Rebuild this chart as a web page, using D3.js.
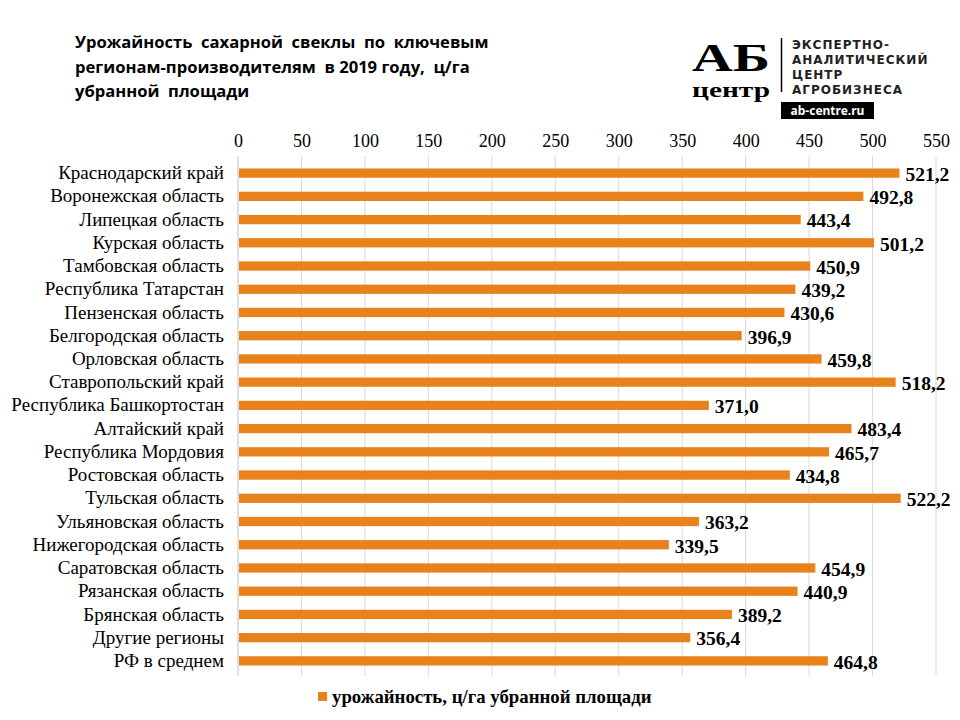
<!DOCTYPE html>
<html><head><meta charset="utf-8">
<script src="https://cdn.jsdelivr.net/npm/d3@7"></script>
<style>body{margin:0;background:#fff}</style>
</head><body>
<svg id="c" width="960" height="720"></svg>
<script>
const categories = ["Краснодарский край","Воронежская область","Липецкая область","Курская область","Тамбовская область","Республика Татарстан","Пензенская область","Белгородская область","Орловская область","Ставропольский край","Республика Башкортостан","Алтайский край","Республика Мордовия","Ростовская область","Тульская область","Ульяновская область","Нижегородская область","Саратовская область","Рязанская область","Брянская область","Другие регионы","РФ в среднем"];
const values = [521.2,492.8,443.4,501.2,450.9,439.2,430.6,396.9,459.8,518.2,371.0,483.4,465.7,434.8,522.2,363.2,339.5,454.9,440.9,389.2,356.4,464.8];
const tickValues = [0,50,100,150,200,250,300,350,400,450,500,550];
const titleLines = ["Урожайность  сахарной  свеклы  по  ключевым","регионам-производителям  в 2019 году,  ц/га","убранной  площади"];
const legendLabel = "урожайность, ц/га убранной площади";
const logoLines = ["ЭКСПЕРТНО-","АНАЛИТИЧЕСКИЙ","ЦЕНТР","АГРОБИЗНЕСА"];

const svg = d3.select("#c");
const orange = "#E8821C";
const serif = "Liberation Serif, Times New Roman, serif";
const x = d3.scaleLinear().domain([0,550]).range([238,936]);
const y = d3.scaleBand().domain(categories).range([161.5,672.5]).paddingInner(0.6).paddingOuter(0.3);

// gridlines
svg.append("g").selectAll("line").data(tickValues.slice(1)).join("line")
  .attr("x1",d=>x(d)).attr("x2",d=>x(d)).attr("y1",156).attr("y2",676)
  .attr("stroke","#d9d9d9").attr("stroke-width",1);

// top axis
const ax = svg.append("g").attr("transform","translate(0,147)")
  .call(d3.axisTop(x).tickValues(tickValues).tickSize(0).tickPadding(0));
ax.select(".domain").remove();
ax.selectAll("text").style("font-family",serif).style("font-size","18px").attr("fill","#000");

// left axis
const ay = svg.append("g").attr("transform","translate(238,0)")
  .call(d3.axisLeft(y).tickSize(0).tickPadding(14));
ay.select(".domain").attr("stroke","#bfbfbf").attr("d","M0,156V676");
ay.selectAll("text").style("font-family",serif).style("font-size","19px").attr("fill","#000");

// bars
svg.append("g").selectAll("rect").data(values).join("rect")
  .attr("x",x(0)+1).attr("y",(d,i)=>y(categories[i]))
  .attr("width",d=>x(d)-x(0)-1).attr("height",y.bandwidth())
  .attr("fill",orange);

// value labels
svg.append("g").selectAll("text").data(values).join("text")
  .attr("x",d=>x(d)+6).attr("y",(d,i)=>y(categories[i])+y.bandwidth()/2+1)
  .attr("dy","0.35em").style("font-family",serif).style("font-weight","bold")
  .style("font-size","19.5px").attr("fill","#000")
  .text(d=>d3.format(".1f")(d).replace(".",","));

// title
svg.append("g").selectAll("text").data(titleLines).join("text")
  .attr("x",75).attr("y",(d,i)=>48+i*24.5)
  .style("font-family","Open Sans, Noto Sans, sans-serif").style("font-weight","bold")
  .style("font-size","16.6px").attr("fill","#000")
  .style("white-space","pre").text(d=>d);

// legend
svg.append("rect").attr("x",318).attr("y",692).attr("width",9).attr("height",9).attr("fill",orange);
svg.append("text").attr("x",332).attr("y",703).style("font-family",serif).style("font-weight","bold")
  .style("font-size","18.8px").attr("fill","#000").text(legendLabel);

// logo
const lg = svg.append("g");
lg.append("text").attr("x",731).attr("y",71).attr("text-anchor","middle")
  .style("font-family",serif).style("font-weight","bold").style("font-size","40px")
  .attr("textLength",78).attr("lengthAdjust","spacingAndGlyphs").text("АБ");
lg.append("text").attr("x",731).attr("y",97).attr("text-anchor","middle")
  .style("font-family",serif).style("font-weight","bold").style("font-size","20px")
  .attr("textLength",78).attr("lengthAdjust","spacingAndGlyphs").text("центр");
lg.append("line").attr("x1",781.5).attr("x2",781.5).attr("y1",38).attr("y2",92).attr("stroke","#000").attr("stroke-width",1.5);
lg.selectAll("text.ll").data(logoLines).join("text").attr("class","ll")
  .attr("x",792).attr("y",(d,i)=>49+i*15)
  .style("font-family","DejaVu Sans, sans-serif").style("font-weight","bold").style("font-size","12px")
  .attr("letter-spacing",1).attr("fill","#222").text(d=>d);
lg.append("rect").attr("x",781).attr("y",102).attr("width",93).attr("height",17).attr("fill","#000");
lg.append("text").attr("x",827.5).attr("y",115).attr("text-anchor","middle")
  .style("font-family","Noto Sans, sans-serif").style("font-weight","bold").style("font-size","12px").attr("fill","#fff").text("ab-centre.ru");
</script>
</body></html>
